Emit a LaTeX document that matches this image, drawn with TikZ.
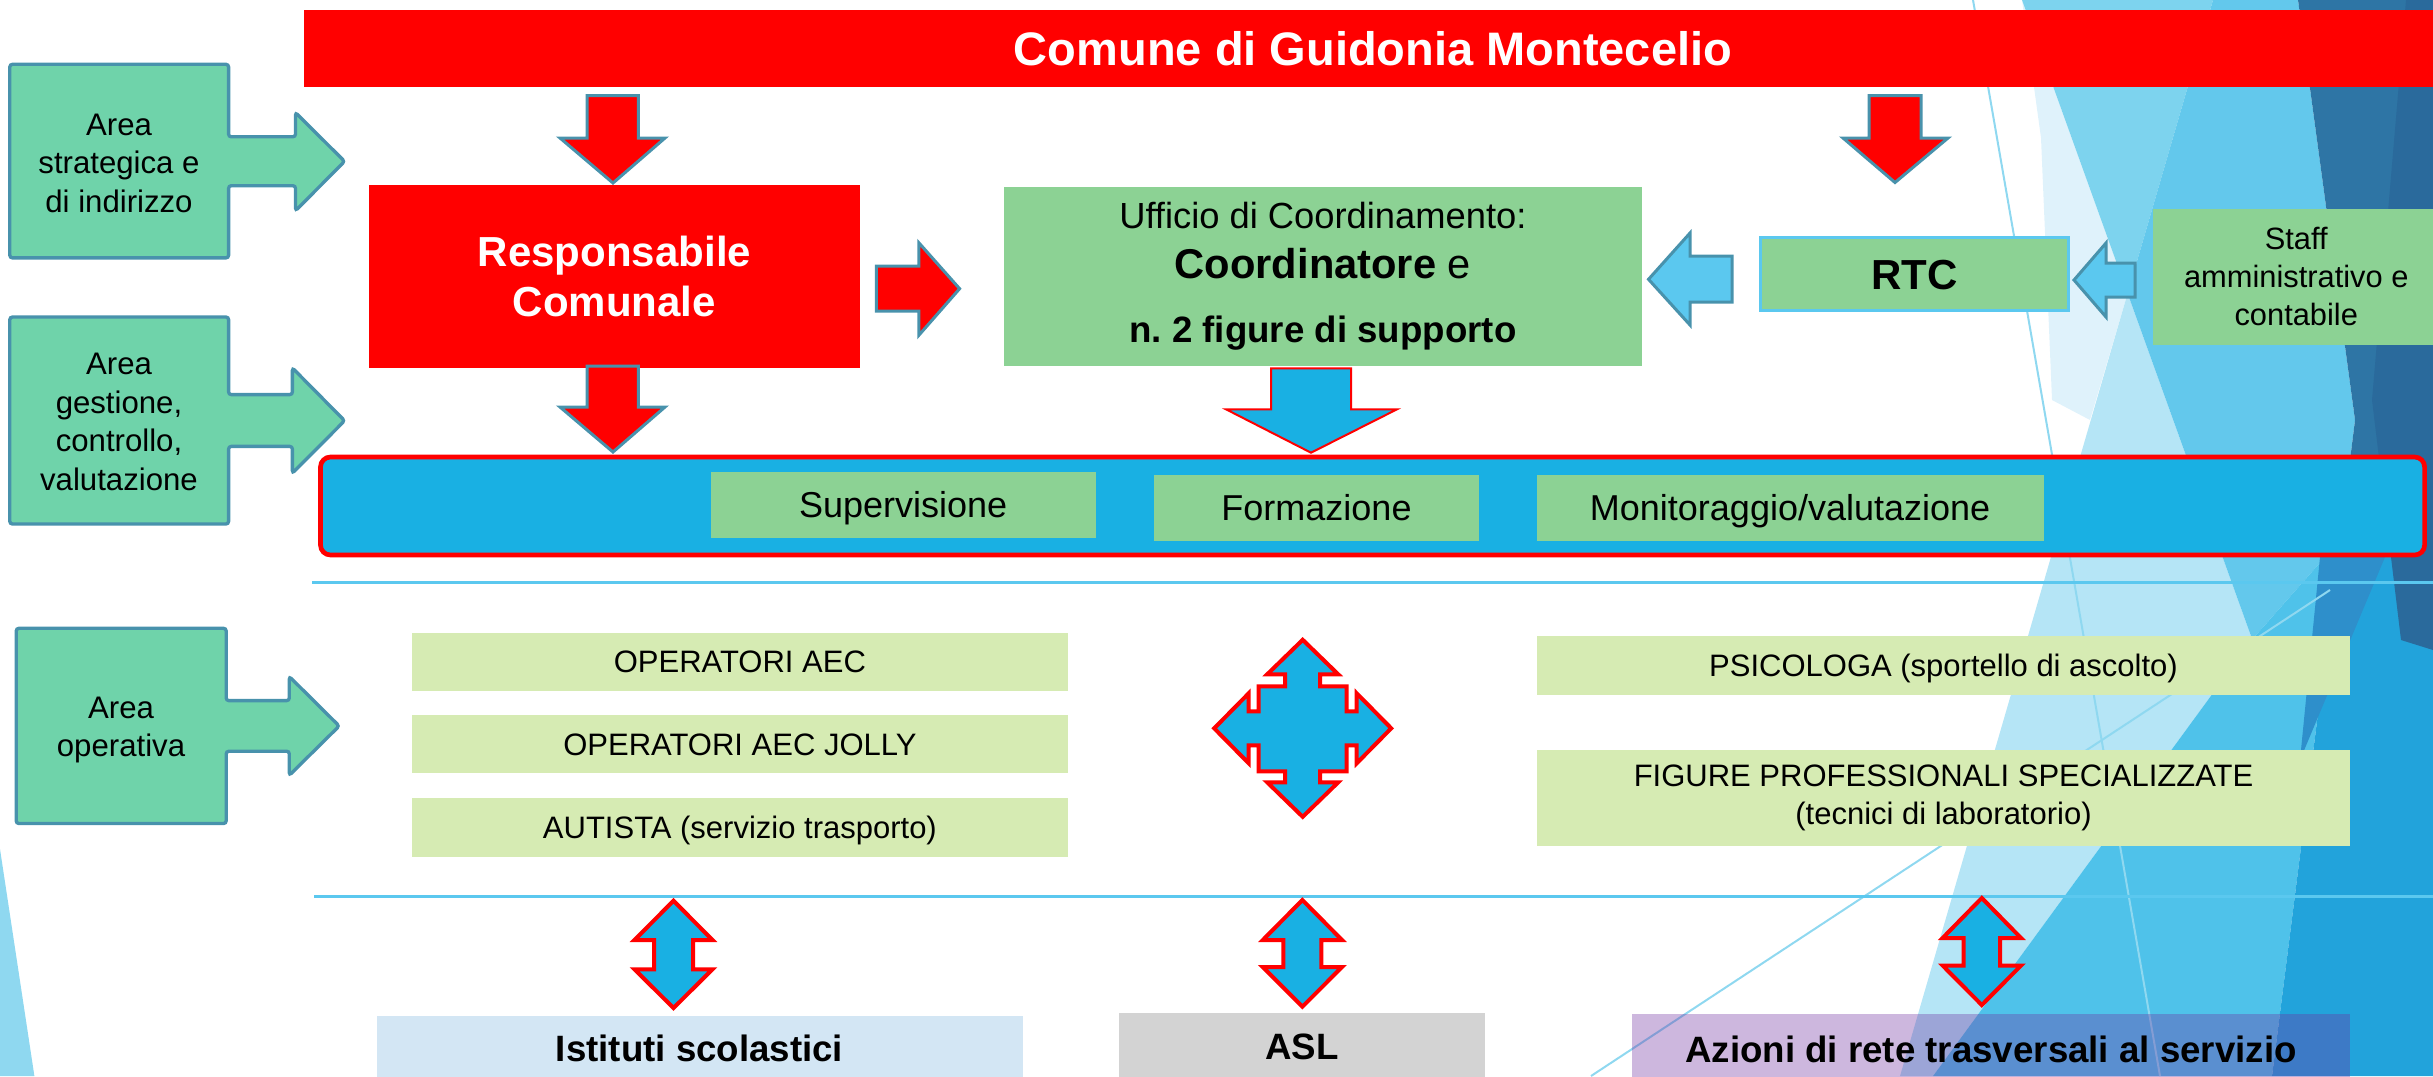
\documentclass[tikz,border=0pt]{standalone}
\usepackage{fontspec}
\setmainfont{Liberation Sans}
\frenchspacing
\definecolor{cRed}{RGB}{255,0,0}
\definecolor{cTeal}{RGB}{72,146,172}
\definecolor{cArea}{RGB}{111,211,170}
\definecolor{cGreen}{RGB}{140,210,148}
\definecolor{cLime}{RGB}{214,235,179}
\definecolor{cCyan}{RGB}{25,176,227}
\definecolor{cSky}{RGB}{91,200,239}
\definecolor{cIst}{RGB}{211,230,244}
\definecolor{cAsl}{RGB}{211,211,211}
\definecolor{cPurple}{RGB}{112,48,160}
\definecolor{bgPale}{RGB}{223,242,251}
\definecolor{bgLight}{RGB}{125,211,238}
\definecolor{bgLighter}{RGB}{181,229,246}
\definecolor{bgMed}{RGB}{99,200,236}
\definecolor{bgLowMed}{RGB}{79,194,234}
\definecolor{bgDeep}{RGB}{34,163,219}
\definecolor{bgDark}{RGB}{46,117,165}
\definecolor{bgDarkest}{RGB}{42,106,156}
\definecolor{bgMidDark}{RGB}{46,143,203}
\definecolor{bgLine}{RGB}{143,216,240}
\begin{document}
\begin{tikzpicture}[x=0.3pt,y=-0.3pt,
  box/.style={inner sep=0pt,outer sep=0pt},
  rect/.style args={#1/#2/#3/#4}{box,minimum width={(#3-#1)*0.3pt},minimum height={(#4-#2)*0.3pt},at={({(#1+#3)/2},{(#2+#4)/2})}},
  capbox/.style={text height=#1,text depth=0pt},
  redarrow/.style={fill=cRed,draw=cTeal,line width=0.9pt},
  skyarrow/.style={fill=cSky,draw=cTeal,line width=0.9pt},
  cyanarrow/.style={fill=cCyan,draw=cRed,line width=1.2pt,line join=miter},
  areacall/.style={fill=cArea,draw=cTeal,line width=1pt,rounded corners=0.8pt},
  areatxt/.style={align=center,font=\fontsize{9.35}{11.55}\selectfont},
  sep/.style={draw=cSky,line width=0.9pt},
  bandtxt/.style={fill=cGreen,font=\fontsize{10.8}{13}\selectfont,capbox=7.7pt},
  optxt/.style={fill=cLime,font=\fontsize{9.3}{11.4}\selectfont,capbox=6.66pt},
  basetxt/.style={font=\bfseries\fontsize{11}{13}\selectfont,capbox=7.9pt}]
\useasboundingbox (0,0) rectangle (2433,1076);
\begin{scope}
\clip (0,0) rectangle (2433,1076);
% background facets
\fill[bgPale] (2022,0) -- (2127.6,293.4) -- (2090,420) -- (2052,400) -- (2041,138) -- cycle;
\fill[bgLight] (2022,0) -- (2213,0) -- (2127.6,293.4) -- cycle;
\fill[bgLighter] (2127.6,293.4) -- (2252.2,639.4) -- (1933,1076) -- (1900,1076) -- cycle;
\fill[bgMed] (2213,0) -- (2298,0) -- (2355,420) -- (2340,540) -- (2252.2,639.4) -- (2127.6,293.4) -- cycle;
\fill[bgLowMed] (2252.2,639.4) -- (2340,540) -- (2272,1076) -- (1933,1076) -- cycle;
\fill[bgDeep] (2340,540) -- (2433,480) -- (2433,1076) -- (2272,1076) -- cycle;
\fill[bgDark] (2298,0) -- (2433,0) -- (2433,480) -- (2340,540) -- (2355,420) -- cycle;
\fill[bgDarkest] (2406,0) -- (2433,0) -- (2433,650) -- (2401,640) -- (2372,400) -- cycle;
\fill[bgMidDark] (2320,557) -- (2385,557) -- (2300,760) -- cycle;
\fill[bgLine] (0,849) -- (34.4,1076) -- (0,1076) -- cycle;
\draw[bgLine,line width=0.6pt] (1973,0) -- (2160,1076);
\draw[bgLine,line width=0.6pt] (1591,1076) -- (2330,590);

% title
\node[rect=303.6/10/2433/86.8,fill=cRed] (title) {};
\node[box,text=white,font=\bfseries\fontsize{14.1}{17}\selectfont,capbox=10.1pt] (titletext) at (1373,48.5) {Comune di Guidonia Montecelio};

% area callouts
\draw[areacall] (9.8,64.3) -- (228.6,64.3) -- (228.6,136.8) -- (295.5,136.8) -- (295.5,112.5) -- (344.6,161.4) -- (295.5,210.7) -- (295.5,185.7) -- (228.6,185.7) -- (228.6,257.9) -- (9.8,257.9) -- cycle;
\node[areatxt] (area1) at (119,163) {Area\\strategica e\\di indirizzo};
\draw[areacall] (9.8,317) -- (228.6,317) -- (228.6,394.6) -- (292.4,394.6) -- (292.4,367.9) -- (344.6,420.7) -- (292.4,473.2) -- (292.4,446.4) -- (228.6,446.4) -- (228.6,524) -- (9.8,524) -- cycle;
\node[areatxt] (area2) at (119,422) {Area\\gestione,\\controllo,\\valutazione};
\draw[areacall] (16.2,628.3) -- (226.2,628.3) -- (226.2,700.6) -- (289.3,700.6) -- (289.3,676.5) -- (339.2,726) -- (289.3,775.3) -- (289.3,751.2) -- (226.2,751.2) -- (226.2,823.5) -- (16.2,823.5) -- cycle;
\node[areatxt] (area3) at (121,730) {Area\\operativa};

% main boxes
\node[rect=369/185/860/367.7,fill=cRed,text=white,align=center,font=\bfseries\fontsize{12.6}{15}\selectfont] (resp) {Responsabile\\Comunale};
\node[rect=1003.8/187/1642/365.7,fill=cGreen,align=center,font=\fontsize{11}{15}\selectfont] (uff) {{\fontsize{10.9}{15}\selectfont Ufficio di Coordinamento:}\\{\fontsize{12.5}{15}\selectfont\bfseries Coordinatore\mdseries{} e}\\[4pt]{\bfseries n. 2 figure di supporto}};
\node[rect=1760.8/237.5/2068/310.7,fill=cGreen,draw=cSky,line width=0.9pt,font=\bfseries\fontsize{12.6}{15}\selectfont,capbox=9pt] (rtc) {RTC};
\node[rect=2152.5/209/2440/344.6,fill=cGreen,align=center,font=\fontsize{9.25}{11.4}\selectfont] (staff) {Staff\\amministrativo e\\contabile};

% red arrows
\draw[redarrow] (587,95.7) -- (638.4,95.7) -- (638.4,138) -- (665,138) -- (613,183) -- (560,138) -- (587,138) -- cycle;
\draw[redarrow] (587,366) -- (638.4,366) -- (638.4,407) -- (665,407) -- (613,452) -- (560,407) -- (587,407) -- cycle;
\draw[redarrow] (1869,95.7) -- (1921,95.7) -- (1921,138) -- (1948,138) -- (1895,182.5) -- (1843,138) -- (1869,138) -- cycle;
\draw[redarrow] (876.3,266) -- (918.8,266) -- (918.8,242.7) -- (959.6,288.7) -- (918.8,335.3) -- (918.8,311) -- (876.3,311) -- cycle;
% sky arrows
\draw[skyarrow] (1648.5,279.3) -- (1690,233) -- (1690,256) -- (1732,256) -- (1732,302) -- (1690,302) -- (1690,325) -- cycle;
\draw[skyarrow] (2074,280) -- (2106,243) -- (2106,263) -- (2135,263) -- (2135,297) -- (2106,297) -- (2106,317) -- cycle;
% blue down arrow
\draw[fill=cCyan,draw=cRed,line width=0.6pt] (1271,368.3) -- (1351,368.3) -- (1351,409.3) -- (1397,409.3) -- (1311,452.7) -- (1226,409.3) -- (1271,409.3) -- cycle;

% band
\node[rect=320.5/457/2424.6/555,fill=cCyan,draw=cRed,line width=1.4pt,rounded corners=3pt] (band) {};
\node[rect=710.7/471.7/1095.6/537.7,bandtxt] (sup) {Supervisione};
\node[rect=1154/475/1479/540.7,bandtxt] (form) {Formazione};
\node[rect=1536.5/475/2043.6/541,bandtxt] (mon) {Monitoraggio/valutazione};

% separators
\draw[sep] (312,582.7) -- (2433,582.7);
\draw[sep] (314,896.5) -- (2433,896.5);

% operative boxes
\node[rect=412.2/632.7/1067.6/690.7,optxt] (op1) {OPERATORI AEC};
\node[rect=412.2/715/1067.6/773.3,optxt] (op2) {OPERATORI AEC JOLLY};
\node[rect=412.2/798/1067.6/856.7,optxt] (op3) {AUTISTA (servizio trasporto)};
\node[rect=1537/636/2350/695,optxt] (psi) {PSICOLOGA (sportello di ascolto)};
\node[rect=1537/750/2350/845.7,fill=cLime,align=center,font=\fontsize{9.3}{11.4}\selectfont] (fig) {FIGURE PROFESSIONALI SPECIALIZZATE\\(tecnici di laboratorio)};

% cross
\draw[cyanarrow,shift={(1302.7,728.3)}] (0,-88.5) -- (35.5,-54) -- (17.5,-54) -- (17.5,-42) -- (44,-42) -- (44,-17) -- (54,-17) -- (54,-35) -- (88.5,0) -- (54,35) -- (54,17) -- (44,17) -- (44,43) -- (17.5,43) -- (17.5,54) -- (35.5,54) -- (0,88.5) -- (-35.5,54) -- (-17.5,54) -- (-17.5,43) -- (-44,43) -- (-44,17) -- (-54,17) -- (-54,35) -- (-88.5,0) -- (-54,-35) -- (-54,-17) -- (-44,-17) -- (-44,-42) -- (-17.5,-42) -- (-17.5,-54) -- (-35.5,-54) -- cycle;

% double arrows
\draw[cyanarrow] (673.5,900.7) -- (712.5,940) -- (693,940) -- (693,969.3) -- (712.5,969.3) -- (673.5,1008) -- (634.5,969.3) -- (654,969.3) -- (654,940) -- (634.5,940) -- cycle;
\draw[cyanarrow] (1302.4,900) -- (1342,940) -- (1321.4,940) -- (1321.4,967) -- (1342,967) -- (1302.4,1006.7) -- (1262.8,967) -- (1283.4,967) -- (1283.4,940) -- (1262.8,940) -- cycle;
\draw[cyanarrow] (1981.8,898) -- (2021,938) -- (2000.1,938) -- (2000.1,965.5) -- (2021,965.5) -- (1981.8,1005) -- (1942.6,965.5) -- (1963.5,965.5) -- (1963.5,938) -- (1942.6,938) -- cycle;

% bottom boxes
\node[rect=376.5/1016/1022.6/1080.6,fill=cIst,basetxt] (ist) {Istituti scolastici};
\node[rect=1118.7/1013/1485/1080.4,fill=cAsl,basetxt] (asl) {ASL};
\node[rect=1632/1014/2350/1084,fill=cPurple,fill opacity=0.35,text opacity=1,basetxt] (azi) {Azioni di rete trasversali al servizio};
\end{scope}
\end{tikzpicture}
\end{document}
